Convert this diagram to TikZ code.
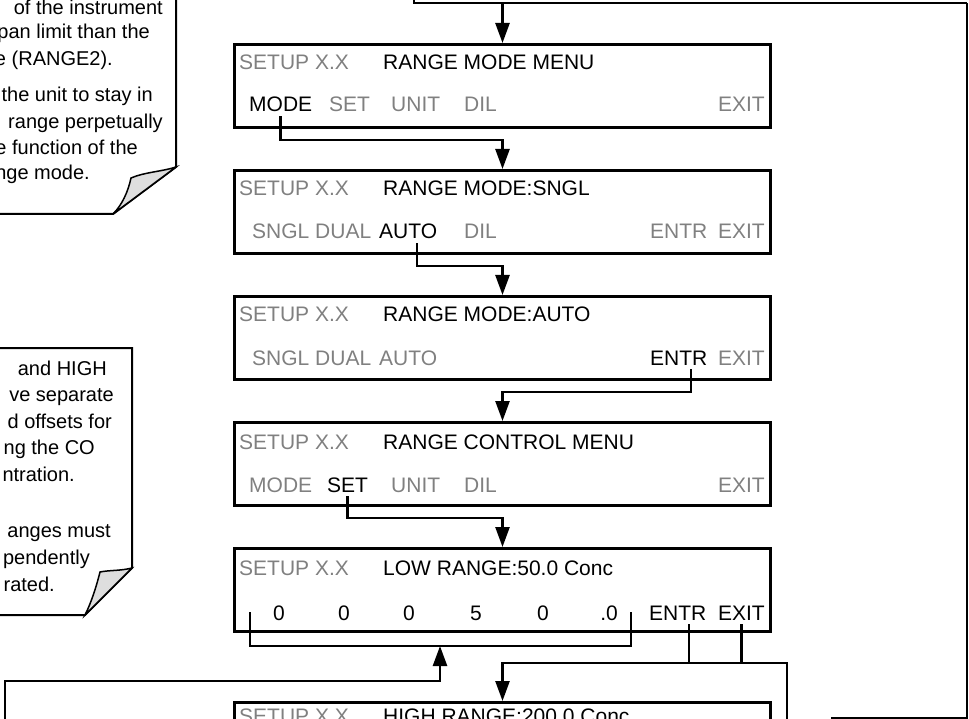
\documentclass[tikz,border=0pt]{standalone}
\usepackage{fontspec}
\setmainfont{Liberation Sans}
\usetikzlibrary{arrows.meta,calc,positioning}
\definecolor{KeyGray}{gray}{0.5}
\definecolor{CurlGray}{gray}{0.87}

\tikzset{
  panel/.style={draw,line width=3pt,minimum width=536pt,minimum height=83pt,inner sep=0pt,anchor=north west},
  lbl/.style={inner sep=0pt,anchor=base west,font=\fontsize{21}{25}\selectfont},
  dim/.style={lbl,text=KeyGray},
  key/.style={lbl,inner ysep=4pt},
  flow/.style={line width=2.5pt,-{Triangle[length=20pt,width=14pt]}},
  wire/.style={line width=2.5pt},
  note/.style={draw,line width=2pt,fill=white},
  curl/.style={draw,line width=1.5pt,fill=CurlGray},
  notetxt/.style={lbl,anchor=base east,font=\fontsize{20}{24}\selectfont},
}

\begin{document}
\begin{tikzpicture}[x=1pt,y=-1pt]
\useasboundingbox (0,0) rectangle (969,719);
\clip (0,0) rectangle (969,719);

% notes on the left
\draw[note] (-20,-20) -- (176,-20) -- (176,167) -- (113,214) -- (-20,214) -- cycle;
\draw[curl] (176,167) .. controls (160,172) and (145,172) .. (131,178)
  .. controls (128,192) and (122,205) .. (113,214) -- cycle;
\node[notetxt] at (163,15) {of the instrument};
\node[notetxt] at (150,39) {pan limit than the};
\node[notetxt] at (113,66) {e (RANGE2).};
\node[notetxt] at (153,102) {the unit to stay in};
\node[notetxt] at (163,129) {range perpetually};
\node[notetxt] at (138,155) {e function of the};
\node[notetxt] at (90,180) {nge mode.};

\draw[note] (-20,348) -- (132,348) -- (132,568) -- (85,615) -- (-20,615) -- cycle;
\draw[curl] (132,568) .. controls (120,571) and (110,570) .. (100,572)
  .. controls (96,588) and (91,603) .. (85,615) -- cycle;
\node[notetxt] at (107,375) {and HIGH};
\node[notetxt] at (114,401) {ve separate};
\node[notetxt] at (112,428) {d offsets for};
\node[notetxt] at (95,454) {ng the CO};
\node[notetxt] at (75,481) {ntration.};
\node[notetxt] at (111,537) {anges must};
\node[notetxt] at (90,564) {pendently};
\node[notetxt] at (55,591) {rated.};

% display panels
\node[panel] (p1) at (233,43) {};
\node[panel] (p2) at (233,169) {};
\node[panel] (p3) at (233,295) {};
\node[panel] (p4) at (233,421) {};
\node[panel] (p5) at (233,547) {};
\node[panel] (p6) at (233,701) {};

\node[dim] at (239,70) {SETUP X.X};
\node[lbl] at (383,70) {RANGE MODE MENU};
\node[key] (k1mode) at (249,112) {MODE};
\node[dim] at (329,112) {SET};
\node[dim] at (391,112) {UNIT};
\node[dim] at (464,112) {DIL};
\node[dim,anchor=base east] at (765,112) {EXIT};

\node[dim] at (239,196) {SETUP X.X};
\node[lbl] at (383,196) {RANGE MODE:SNGL};
\node[dim] at (252,239) {SNGL};
\node[dim] at (315,239) {DUAL};
\node[key] (k2auto) at (379,239) {AUTO};
\node[dim] at (464,239) {DIL};
\node[dim] at (650,239) {ENTR};
\node[dim,anchor=base east] at (765,239) {EXIT};

\node[dim] at (239,322) {SETUP X.X};
\node[lbl] at (383,322) {RANGE MODE:AUTO};
\node[dim] at (252,365) {SNGL};
\node[dim] at (315,365) {DUAL};
\node[dim] at (379,365) {AUTO};
\node[key] (k3entr) at (650,365) {ENTR};
\node[dim,anchor=base east] at (765,365) {EXIT};

\node[dim] at (239,449) {SETUP X.X};
\node[lbl] at (383,449) {RANGE CONTROL MENU};
\node[dim] at (249,492) {MODE};
\node[key] (k4set) at (327,492) {SET};
\node[dim] at (391,492) {UNIT};
\node[dim] at (464,492) {DIL};
\node[dim,anchor=base east] at (765,492) {EXIT};

\node[dim] at (239,575) {SETUP X.X};
\node[lbl] at (383,575) {LOW RANGE:50.0 Conc};
\node[lbl,anchor=base] at (279,620) {0};
\node[lbl,anchor=base] at (344,620) {0};
\node[lbl,anchor=base] at (409,620) {0};
\node[lbl,anchor=base] at (476,620) {5};
\node[lbl,anchor=base] at (543,620) {0};
\node[lbl,anchor=base] at (609,620) {.0};
\node[key] (k5entr) at (649,620) {ENTR};
\node[key,anchor=base east] (k5exit) at (765,620) {EXIT};

\node[dim] at (239,723) {SETUP X.X};
\node[lbl] at (383,723) {HIGH RANGE:200.0 Conc};

% flow between panels
\coordinate (top) at (p1.north |- 0,3);
\draw[wire] (414,-10) -- (414,3) -- (967,3);
\draw[line width=1.2pt] (967,3) -- (967,718) -- (832,718) -- (832,730);
\draw[flow] (top) -- (p1.north);

\draw[flow] (k1mode.south) -- (k1mode.south |- 0,140) -| (p2.north);
\coordinate (a2) at ([xshift=9pt]k2auto.south);
\draw[flow] (a2) -- (a2 |- 0,266) -| (p3.north);
\coordinate (e3) at ([xshift=12pt]k3entr.south);
\draw[flow] (e3) -- (e3 |- 0,392) -| (p4.north);
\draw[flow] (k4set.south) -- (k4set.south |- 0,518) -| (p5.north);

% digit bracket and return
\coordinate (brl) at (250,612);
\coordinate (brr) at (631,612);
\coordinate (brm) at (440,646);
\draw[wire] (brl) -- (brl |- brm) -- (brr |- brm) -- (brr);
\draw[flow] (5,730) -- (5,681) -- (brm |- 0,681) -- (brm);

% ENTR / EXIT to next panel
\coordinate (j1) at (787,663);
\coordinate (e5) at ([xshift=11pt]k5entr.south);
\draw[wire] (e5) -- (e5 |- j1);
\draw[wire] (k5exit.south) -- (k5exit.south |- j1);
\draw[flow] (787,730) -- (j1) -| (p6.north);
\end{tikzpicture}
\end{document}
